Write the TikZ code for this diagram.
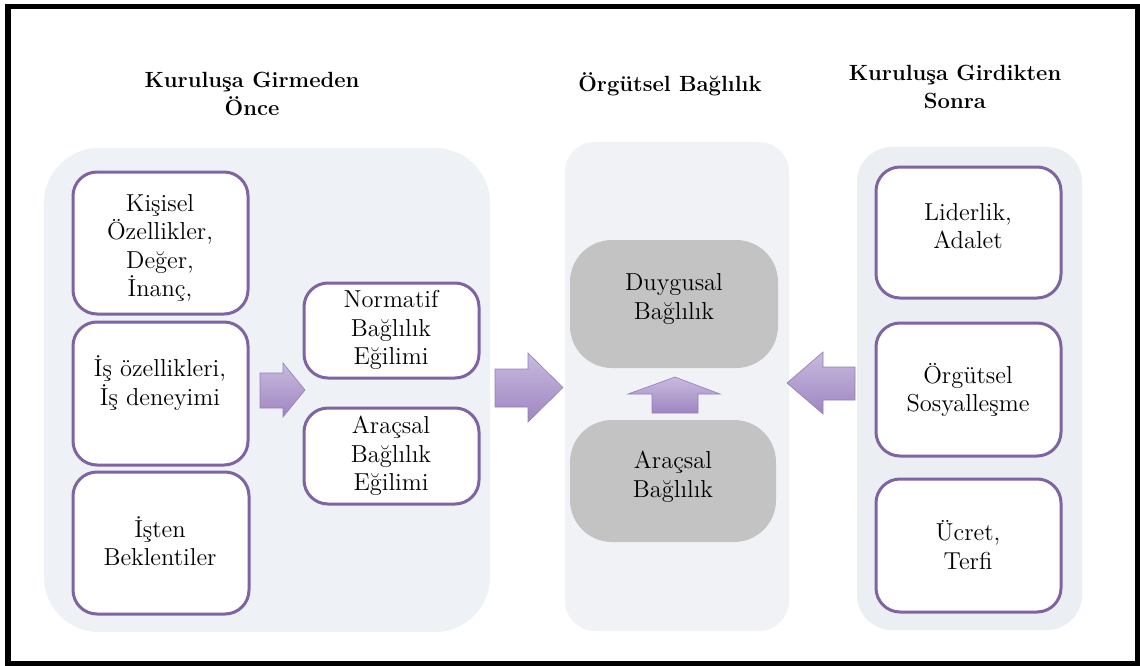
\documentclass[tikz,border=0pt]{standalone}
\usepackage{fontspec}
\newfontfamily\bodyfont{lmroman12-regular.otf}[BoldFont=lmroman12-bold.otf]
\begin{document}
\definecolor{panelL}{RGB}{238,241,245}
\definecolor{panelM}{RGB}{240,242,246}
\definecolor{panelR}{RGB}{235,239,244}
\definecolor{boxline}{RGB}{128,100,162}
\definecolor{grayfill}{RGB}{195,195,195}
\definecolor{arrowtop}{RGB}{200,186,222}
\definecolor{arrowbot}{RGB}{158,134,193}
\definecolor{arrowedge}{RGB}{150,126,186}
\begin{tikzpicture}[x=1pt,y=-1pt,
  panel/.style={rounded corners=#1},
  pbox/.style={draw=boxline, line width=3pt, fill=white, rounded corners=24pt},
  gbox/.style={fill=grayfill, rounded corners=42pt},
  txt/.style={align=center, inner sep=0pt, text=black, font=\bodyfont\fontsize{24.5}{28.5}\selectfont},
  ttl/.style={align=center, inner sep=0pt, text=black, font=\bodyfont\fontsize{22}{28.5}\selectfont\bfseries},
  blockarrow/.style={top color=arrowtop, bottom color=arrowbot, draw=arrowedge, line width=0.6pt, line join=miter}
]
\useasboundingbox (0,0) rectangle (1140,666);
\fill[white] (0,0) rectangle (1140,666);

% background panels
\fill[panelL, panel=55pt] (44,148) rectangle (490,632);
\fill[panelM, panel=30pt] (565,142) rectangle (789,631);
\fill[panelR, panel=35pt] (857,147) rectangle (1082,630);

% titles
\node[ttl] (t1) at (252,94) {Kuruluşa Girmeden\\Önce};
\node[ttl] (t2) at (670,84) {Örgütsel Bağlılık};
\node[ttl] (t3) at (955,87) {Kuruluşa Girdikten\\Sonra};

% left column boxes
\draw[pbox] (73,172) rectangle (248,314);
\draw[pbox] (73,322) rectangle (248,465);
\draw[pbox] (73,472) rectangle (249,614);
\node[txt] (k1) at (160,248) {Kişisel\\Özellikler,\\Değer,\\İnanç,};
\node[txt] (k2) at (160,383) {İş özellikleri,\\İş deneyimi};
\node[txt] (k3) at (160,541) {İşten\\Beklentiler};

% tendency boxes
\draw[pbox] (304,283) rectangle (479,378);
\draw[pbox] (304,408) rectangle (479,504);
\node[txt] (n1) at (391,330) {Normatif\\Bağlılık\\Eğilimi};
\node[txt] (n2) at (391,456) {Araçsal\\Bağlılık\\Eğilimi};

% commitment boxes
\fill[gbox] (570,240) rectangle (778,368);
\fill[gbox] (570,420) rectangle (776,542);
\node[txt] (d1) at (674,299) {Duygusal\\Bağlılık};
\node[txt] (d2) at (673,477) {Araçsal\\Bağlılık};

% right column boxes
\draw[pbox] (876,167) rectangle (1061,298);
\draw[pbox] (876,323) rectangle (1061,456);
\draw[pbox] (876,479) rectangle (1061,612);
\node[txt] (r1) at (968,226) {Liderlik,\\Adalet};
\node[txt] (r2) at (968,390) {Örgütsel\\Sosyalleşme};
\node[txt] (r3) at (968,545) {Ücret,\\Terfi};

% block arrows
\draw[blockarrow] (260,373) -- (283,373) -- (283,363) -- (305,390) -- (283,417)
  -- (283,408) -- (260,408) -- cycle;
\draw[blockarrow] (495,369) -- (528,369) -- (528,353) -- (563,387.5) -- (528,422)
  -- (528,407) -- (495,407) -- cycle;
\draw[blockarrow] (652,413) -- (652,394) -- (628,394) -- (675,377) -- (720,394)
  -- (698,394) -- (698,413) -- cycle;
\draw[blockarrow] (855,367) -- (823,367) -- (823,352) -- (787,383) -- (823,414)
  -- (823,400) -- (855,400) -- cycle;

% outer frame
\draw[line width=5.5pt] (8,6.5) rectangle (1137.5,663.5);
\end{tikzpicture}
\end{document}
